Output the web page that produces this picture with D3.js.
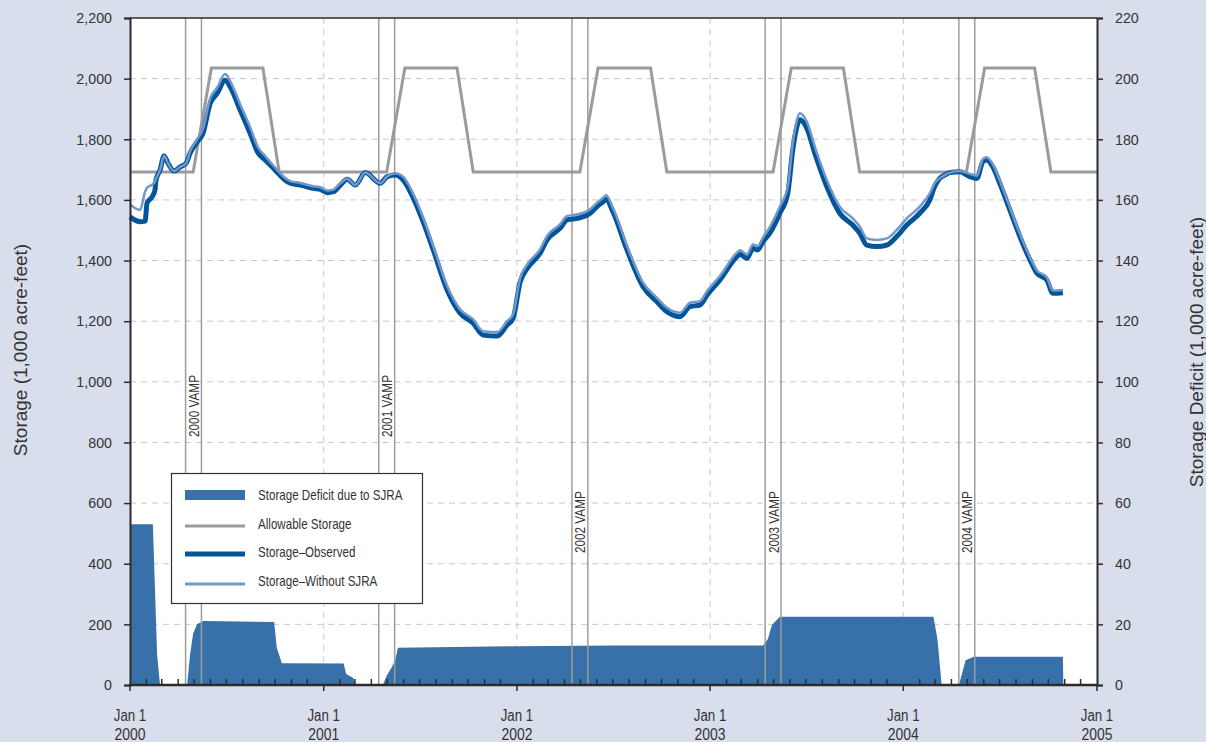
<!DOCTYPE html>
<html><head><meta charset="utf-8">
<script src="https://cdn.jsdelivr.net/npm/d3@7"></script>
<style>
html,body{margin:0;padding:0;background:#d9deed;}
svg{display:block;}
text{font-family:"Liberation Sans",Arial,sans-serif;fill:#333;}
</style></head>
<body>
<svg id="chart" width="1206" height="742"></svg>
<script>
// ---------- DATA (dates as decimal years) ----------
const storageDates = [2000.000,2000.052,2000.078,2000.088,2000.114,2000.129,2000.134,2000.155,2000.176,2000.196,2000.228,2000.259,2000.290,2000.310,2000.341,2000.377,2000.414,2000.450,2000.491,2000.517,2000.569,2000.620,2000.662,2000.698,2000.750,2000.801,2000.827,2000.879,2000.946,2000.982,2001.019,2001.050,2001.086,2001.122,2001.163,2001.215,2001.293,2001.329,2001.370,2001.412,2001.448,2001.515,2001.567,2001.639,2001.706,2001.774,2001.825,2001.898,2001.949,2001.980,2002.017,2002.053,2002.120,2002.156,2002.223,2002.260,2002.311,2002.379,2002.415,2002.446,2002.461,2002.497,2002.570,2002.653,2002.725,2002.777,2002.844,2002.896,2002.947,2002.984,2003.051,2003.139,2003.155,2003.191,2003.222,2003.247,2003.273,2003.309,2003.361,2003.402,2003.428,2003.449,2003.464,2003.501,2003.542,2003.604,2003.671,2003.738,2003.775,2003.811,2003.863,2003.914,2003.966,2004.018,2004.085,2004.137,2004.162,2004.188,2004.214,2004.240,2004.292,2004.343,2004.380,2004.411,2004.431,2004.462,2004.498,2004.550,2004.602,2004.654,2004.690,2004.741,2004.772,2004.824];
const storageObserved = [1544,1528,1530,1590,1610,1633,1665,1698,1745,1721,1695,1709,1721,1754,1787,1820,1918,1951,1995,1973,1896,1820,1754,1732,1698,1665,1655,1649,1638,1635,1624,1627,1649,1668,1649,1690,1655,1677,1682,1665,1627,1528,1435,1303,1226,1193,1154,1151,1187,1209,1330,1374,1424,1468,1506,1534,1539,1556,1578,1594,1602,1561,1435,1314,1264,1231,1215,1248,1253,1286,1336,1413,1421,1407,1440,1435,1462,1490,1556,1622,1765,1841,1864,1836,1754,1644,1556,1517,1490,1451,1446,1451,1479,1517,1556,1600,1644,1671,1682,1690,1693,1677,1671,1726,1732,1709,1655,1567,1479,1402,1358,1336,1292,1294];
const storageWithoutSJRA = [1585,1567,1627,1640,1650,1660,1670,1698,1745,1721,1695,1709,1721,1760,1795,1835,1935,1970,2015,1992,1915,1840,1772,1745,1706,1672,1662,1656,1645,1642,1631,1634,1655,1670,1649,1690,1655,1678,1688,1676,1640,1541,1448,1316,1239,1206,1167,1164,1200,1222,1343,1387,1437,1481,1519,1547,1552,1569,1591,1607,1615,1574,1448,1327,1277,1244,1228,1261,1266,1299,1349,1426,1434,1420,1453,1448,1475,1510,1578,1644,1787,1863,1886,1858,1776,1666,1578,1539,1512,1473,1468,1473,1501,1539,1578,1622,1655,1671,1682,1690,1695,1686,1680,1735,1741,1718,1664,1576,1488,1411,1367,1345,1301,1303];

const allowableDates = [2000.000,2000.326,2000.420,2000.686,2000.770,2001.326,2001.420,2001.690,2001.774,2002.326,2002.420,2002.692,2002.776,2003.326,2003.420,2003.690,2003.774,2004.326,2004.420,2004.678,2004.762,2005.000];
const allowableStorage = [1692,1692,2035,2035,1692,1692,2035,2035,1692,1692,2035,2035,1692,1692,2035,2035,1692,1692,2035,2035,1692,1692];

const deficitDates = [2000.000,2000.118,2000.140,2000.155,2000.295,2000.310,2000.326,2000.346,2000.378,2000.744,2000.758,2000.784,2001.103,2001.116,2001.153,2001.165,2001.306,2001.325,2001.350,2001.370,2001.384,2002.000,2002.500,2003.274,2003.299,2003.320,2003.361,2004.156,2004.177,2004.198,2004.287,2004.322,2004.364,2004.824,2004.826];
const deficitValues = [53,53,10,0,0,10,17,20,21.1,20.8,12.2,7.2,7.1,3.6,2.3,0,0,3,5.6,8.2,12.3,12.8,13.0,13.0,15.2,19.8,22.5,22.5,14.8,0,0,8.2,9.3,9.3,0];

const vampYears = [2000,2001,2002,2003,2004];
const vampStart = ["04-15","04-15","04-15","04-15","04-15"];
const vampEnd = ["05-15","05-15","05-15","05-15","05-15"];
const vampLabels = ["2000 VAMP","2001 VAMP","2002 VAMP","2003 VAMP","2004 VAMP"];
const vampLabelLevel = [818,818,435,435,435];   // storage level where label text starts

const leftTicks = [0,200,400,600,800,1000,1200,1400,1600,1800,2000,2200];
const rightTicks = [0,20,40,60,80,100,120,140,160,180,200,220];
const yearTicks = [2000,2001,2002,2003,2004,2005];

const legendItems = ["Storage Deficit due to SJRA","Allowable Storage","Storage\u2013Observed","Storage\u2013Without SJRA"];

// ---------- helpers ----------
function decYear(t){
  const y=Math.floor(t); const s=new Date(y,0,1), e=new Date(y+1,0,1);
  return new Date(+s + (t-y)*(e-s));
}
function condense(sel, f){
  sel.each(function(){
    const w=this.getComputedTextLength();
    d3.select(this).attr("textLength",w*f).attr("lengthAdjust","spacingAndGlyphs");
  });
}
const C = {
  deficit:"#3871aa", allow:"#9a9b9d", obs:"#03559a", without:"#7298cb",
  grid:"#c9c9c9", axis:"#2b2b2b", vamp:"#9d9d9d"
};

const svg = d3.select("#chart");
const L=130, R=1097, T=18, B=685;
svg.append("rect").attr("x",L).attr("y",T).attr("width",R-L).attr("height",B-T).attr("fill","#fff");

const x = d3.scaleTime().domain([new Date(2000,0,1), new Date(2005,0,1)]).range([L,R]);
const yL = d3.scaleLinear().domain([0,2200]).range([B,T]);
const yR = d3.scaleLinear().domain([0,220]).range([B,T]);

// grid
const g = svg.append("g");
g.selectAll(".hg").data(leftTicks.filter(v=>v>0&&v<2200)).join("line")
  .attr("x1",L).attr("x2",R).attr("y1",d=>yL(d)).attr("y2",d=>yL(d))
  .attr("stroke",C.grid).attr("stroke-width",1).attr("stroke-dasharray","6,5");
g.selectAll(".vg").data(yearTicks.filter(y=>y>2000&&y<2005)).join("line")
  .attr("x1",d=>x(new Date(d,0,1))).attr("x2",d=>x(new Date(d,0,1))).attr("y1",T).attr("y2",B)
  .attr("stroke",C.grid).attr("stroke-width",1).attr("stroke-dasharray","6,5");

// deficit area
const defData = deficitDates.map((d,i)=>({d:decYear(d),v:deficitValues[i]}));
svg.append("path").datum(defData)
  .attr("d", d3.area().x(p=>x(p.d)).y0(yR(0)).y1(p=>yR(p.v)))
  .attr("fill",C.deficit);

// VAMP lines
vampYears.forEach((yr,i)=>{
  [vampStart[i],vampEnd[i]].forEach(md=>{
    const xx = x(d3.timeParse("%Y-%m-%d")(yr+"-"+md));
    svg.append("line").attr("x1",xx).attr("x2",xx).attr("y1",T).attr("y2",B)
      .attr("stroke",C.vamp).attr("stroke-width",1.5);
  });
});

// allowable storage
const allowData = allowableDates.map((d,i)=>({d:decYear(d),v:allowableStorage[i]}));
svg.append("path").datum(allowData)
  .attr("d", d3.line().x(p=>x(p.d)).y(p=>yL(p.v)))
  .attr("fill","none").attr("stroke",C.allow).attr("stroke-width",3);

// storage lines
const obsData = storageDates.map((d,i)=>({d:decYear(d),v:storageObserved[i]}));
const woData = storageDates.map((d,i)=>({d:decYear(d),v:storageWithoutSJRA[i]}));
const ln = d3.line().x(p=>x(p.d)).y(p=>yL(p.v)).curve(d3.curveMonotoneX);
svg.append("path").datum(obsData).attr("d",ln).attr("fill","none")
  .attr("stroke",C.obs).attr("stroke-width",5).attr("stroke-linejoin","round");
svg.append("path").datum(woData).attr("d",ln).attr("fill","none")
  .attr("stroke",C.without).attr("stroke-width",2.5).attr("stroke-linejoin","round");

// VAMP labels
vampYears.forEach((yr,i)=>{
  const x1 = x(d3.timeParse("%Y-%m-%d")(yr+"-"+vampStart[i]));
  const x2 = x(d3.timeParse("%Y-%m-%d")(yr+"-"+vampEnd[i]));
  const cx=(x1+x2)/2, by=yL(vampLabelLevel[i]);
  const w = 62;
  svg.append("rect").attr("x",cx-6.5).attr("y",by-w-2).attr("width",13).attr("height",w+4).attr("fill","#fff");
  svg.append("text")
    .attr("transform",`translate(${cx+5.5},${by}) rotate(-90)`)
    .attr("font-size",15).attr("fill","#222").text(vampLabels[i])
    .attr("textLength",w).attr("lengthAdjust","spacingAndGlyphs");
});

// frame: top and axes
svg.append("line").attr("x1",L).attr("x2",R).attr("y1",T).attr("y2",T).attr("stroke",C.axis).attr("stroke-width",1.5);

const axL = svg.append("g").attr("transform",`translate(${L},0)`)
  .call(d3.axisLeft(yL).tickValues(leftTicks).tickSize(6).tickPadding(12).tickFormat(d3.format(",")));
const axR = svg.append("g").attr("transform",`translate(${R},0)`)
  .call(d3.axisRight(yR).tickValues(rightTicks).tickSize(6).tickPadding(12));
[axL,axR].forEach(a=>{
  a.select(".domain").attr("stroke",C.axis).attr("stroke-width",2);
  a.selectAll(".tick line").attr("stroke",C.axis).attr("stroke-width",1.5);
  a.selectAll(".tick text").attr("font-size",15).attr("fill","#333").attr("font-family","Liberation Sans, Arial, sans-serif");
  condense(a.selectAll(".tick text"),0.95);
});

// bottom axis
const axB = svg.append("g");
axB.append("line").attr("x1",L-1).attr("x2",R+1).attr("y1",B).attr("y2",B).attr("stroke",C.axis).attr("stroke-width",2.5);
const months = d3.timeMonth.range(new Date(2000,1,1), new Date(2005,0,1)).filter(d=>d.getMonth()!==0);
axB.selectAll(".mt").data(months).join("line")
  .attr("x1",d=>x(d)).attr("x2",d=>x(d)).attr("y1",B).attr("y2",B-6)
  .attr("stroke",C.axis).attr("stroke-width",1.5);
axB.selectAll(".yt").data(yearTicks).join("line")
  .attr("x1",d=>x(new Date(d,0,1))).attr("x2",d=>x(new Date(d,0,1))).attr("y1",B).attr("y2",B+6)
  .attr("stroke",C.axis).attr("stroke-width",1.5);
axB.selectAll(".yl1").data(yearTicks).join("text")
  .attr("x",d=>x(new Date(d,0,1))).attr("y",721).attr("text-anchor","middle").attr("font-size",16).attr("fill","#333")
  .text("Jan 1").call(condense,0.83);
axB.selectAll(".yl2").data(yearTicks).join("text")
  .attr("x",d=>x(new Date(d,0,1))).attr("y",740).attr("text-anchor","middle").attr("font-size",16).attr("fill","#333")
  .text(d=>d).call(condense,0.87);

// axis titles
svg.append("text").attr("transform","translate(27,350) rotate(-90)").attr("text-anchor","middle")
  .attr("font-size",19).attr("fill","#555").text("Storage (1,000 acre-feet)");
svg.append("text").attr("transform","translate(1203,352) rotate(-90)").attr("text-anchor","middle")
  .attr("font-size",19).attr("fill","#555").text("Storage Deficit (1,000 acre-feet)");

// legend
const lg = svg.append("g");
lg.append("rect").attr("x",171.5).attr("y",473.5).attr("width",251).attr("height",130)
  .attr("fill","#fff").attr("stroke","#333").attr("stroke-width",1.2);
const rowsY=[495,524,552,581];
lg.append("rect").attr("x",185).attr("y",rowsY[0]-5).attr("width",60).attr("height",10).attr("fill",C.deficit);
lg.append("line").attr("x1",185).attr("x2",245).attr("y1",rowsY[1]+2).attr("y2",rowsY[1]+2).attr("stroke",C.allow).attr("stroke-width",3);
lg.append("line").attr("x1",185).attr("x2",245).attr("y1",rowsY[2]+2).attr("y2",rowsY[2]+2).attr("stroke",C.obs).attr("stroke-width",5);
lg.append("line").attr("x1",185).attr("x2",245).attr("y1",rowsY[3]+3).attr("y2",rowsY[3]+3).attr("stroke",C.without).attr("stroke-width",3);
legendItems.forEach((s,i)=>{
  lg.append("text").attr("x",258).attr("y",rowsY[i]+5).attr("font-size",14.5).attr("fill","#333").text(s).call(condense,0.8);
});
</script>
</body></html>
